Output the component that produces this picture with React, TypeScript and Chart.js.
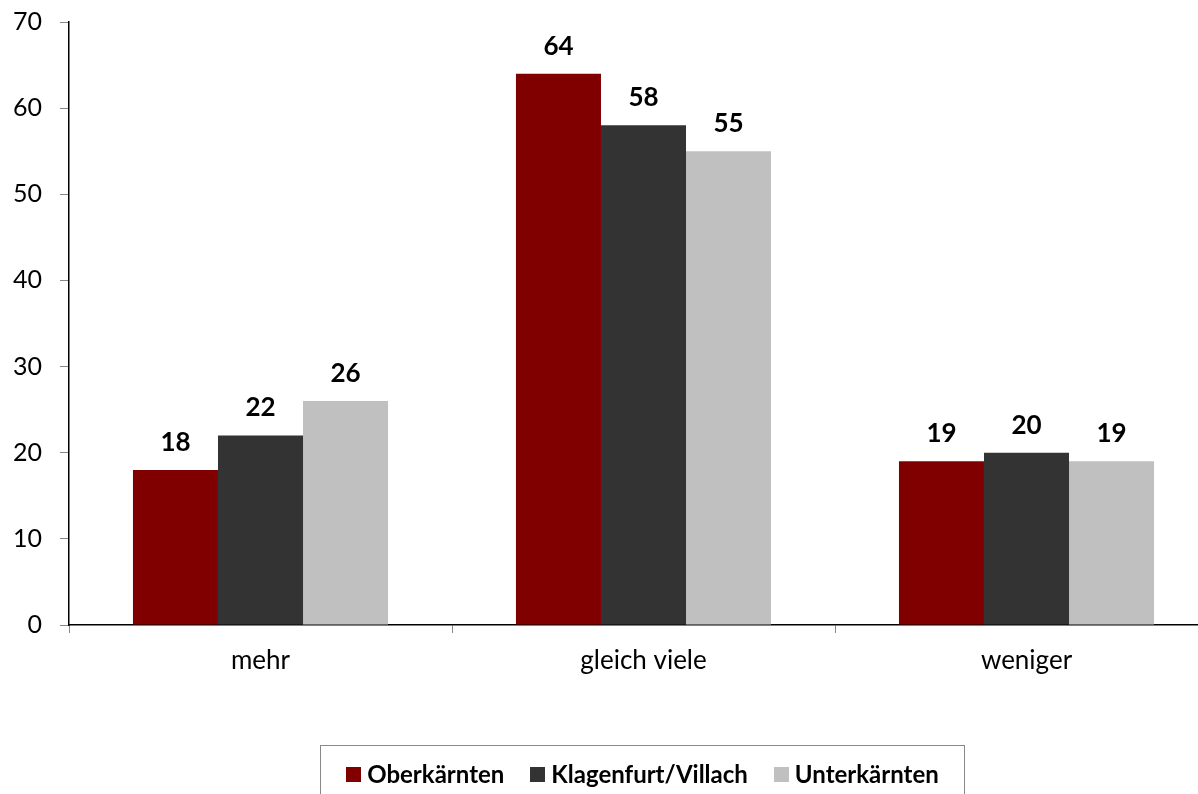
import React, { useEffect, useRef } from "react";
import { Chart, registerables } from "chart.js";

Chart.register(...registerables);

const categories = ["mehr", "gleich viele", "weniger"];
const seriesNames = ["Oberkärnten", "Klagenfurt/Villach", "Unterkärnten"];
const oberkaernten = [18, 64, 19];
const klagenfurtVillach = [22, 58, 20];
const unterkaernten = [26, 55, 19];
const seriesColors = ["#800000", "#333333", "#C0C0C0"];
const yTicks = [0, 10, 20, 30, 40, 50, 60, 70];

const FONT = "Lato, 'Open Sans', sans-serif";

const valueLabels = {
  id: "valueLabels",
  afterDatasetsDraw(chart: any) {
    const ctx = chart.ctx;
    ctx.save();
    ctx.font = `bold 26px ${FONT}`;
    ctx.fillStyle = "#000";
    ctx.textAlign = "center";
    ctx.textBaseline = "alphabetic";
    chart.data.datasets.forEach((ds: any, i: number) => {
      const meta = chart.getDatasetMeta(i);
      meta.data.forEach((bar: any, j: number) => {
        ctx.fillText(String(ds.data[j]), bar.x, bar.y - 19);
      });
    });
    ctx.restore();
  },
};

export default function App() {
  const ref = useRef<HTMLCanvasElement | null>(null);
  useEffect(() => {
    document.body.style.margin = "0";
    const seriesData = [oberkaernten, klagenfurtVillach, unterkaernten];
    const chart = new Chart(ref.current as HTMLCanvasElement, {
      type: "bar",
      data: {
        labels: categories,
        datasets: seriesNames.map((name, i) => ({
          label: name,
          data: seriesData[i],
          backgroundColor: seriesColors[i],
          borderWidth: 0,
          categoryPercentage: 0.666,
          barPercentage: 1,
        })),
      },
      options: {
        animation: false,
        responsive: false,
        events: [],
        layout: { padding: { left: 0, right: 22, top: 22, bottom: 0 } },
        plugins: {
          legend: { display: false },
          tooltip: { enabled: false },
        },
        scales: {
          x: {
            grid: {
              display: true,
              drawOnChartArea: false,
              drawTicks: true,
              tickLength: 8,
              color: "#888",
              offset: true,
            },
            border: { display: true, color: "#000", width: 1.5 },
            ticks: {
              color: "#000",
              font: { family: FONT, size: 26 },
              padding: 12,
            },
            afterFit(scale: any) {
              scale.height = 169;
              scale.paddingLeft = 0;
              scale.paddingRight = 0;
            },
          },
          y: {
            min: 0,
            max: 70,
            afterBuildTicks(scale: any) {
              scale.ticks = yTicks.map((v) => ({ value: v }));
            },
            grid: {
              display: true,
              drawOnChartArea: false,
              drawTicks: true,
              tickLength: 9,
              color: "#888",
            },
            border: { display: true, color: "#000", width: 1.5 },
            ticks: {
              color: "#000",
              font: { family: FONT, size: 25 },
              padding: 18,
            },
            afterFit(scale: any) {
              scale.width = 69;
              scale.paddingTop = 0;
              scale.paddingBottom = 0;
            },
          },
        },
      },
      plugins: [valueLabels],
    });
    return () => chart.destroy();
  }, []);

  return (
    <div
      style={{
        position: "absolute",
        left: 0,
        top: 0,
        width: 1198,
        height: 794,
        overflow: "hidden",
        background: "#fff",
      }}
    >
      <canvas ref={ref} width={1240} height={794} style={{ display: "block" }} />
      <div
        style={{
          position: "absolute",
          left: 320,
          top: 745,
          width: 645,
          height: 70,
          border: "1px solid #888",
          boxSizing: "border-box",
          display: "flex",
          alignItems: "flex-start",
          justifyContent: "center",
          paddingTop: 14,
          fontFamily: FONT,
          fontWeight: "bold",
          fontSize: 24,
          color: "#000",
          lineHeight: "28px",
        }}
      >
        {seriesNames.map((name, i) => (
          <div
            key={name}
            style={{
              display: "flex",
              alignItems: "center",
              marginLeft: i === 0 ? 0 : 26,
            }}
          >
            <span
              style={{
                display: "inline-block",
                width: 15,
                height: 15,
                background: seriesColors[i],
                marginRight: 6,
              }}
            />
            <span>{name}</span>
          </div>
        ))}
      </div>
    </div>
  );
}
